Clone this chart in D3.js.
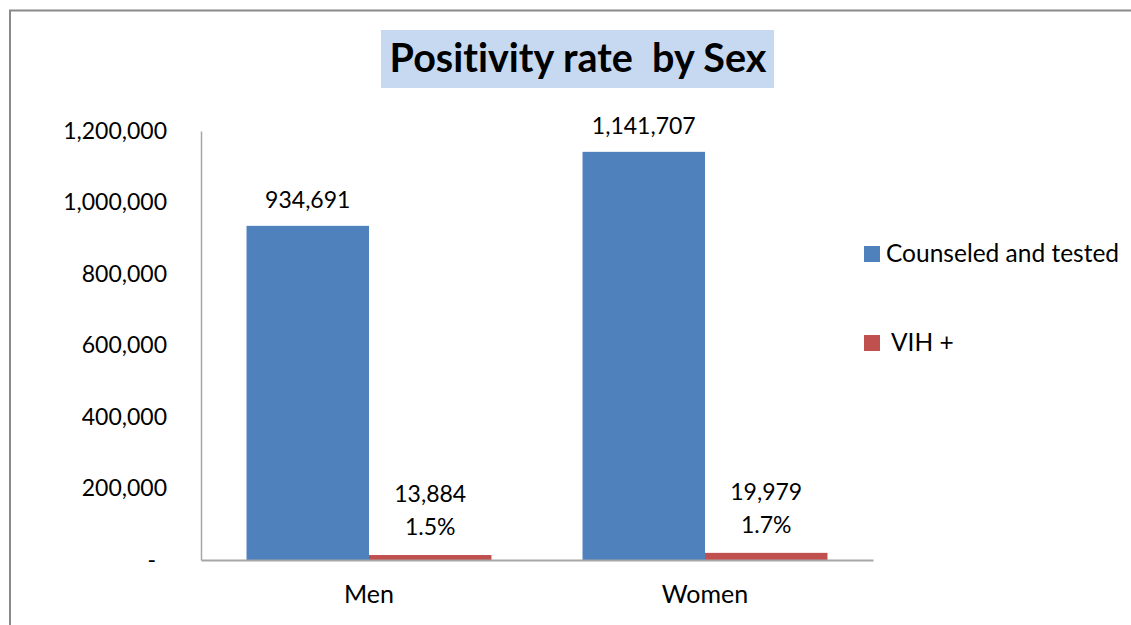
<!DOCTYPE html>
<html>
<head>
<meta charset="utf-8">
<script src="https://cdn.jsdelivr.net/npm/d3@7"></script>
<style>
  body { margin: 0; background: #fff; }
  svg { display: block; font-family: Lato, "Open Sans", sans-serif; font-variant-ligatures: none; }
</style>
</head>
<body>
<svg id="chart" width="1131" height="625"></svg>
<script>
// data
var categories = ["Men", "Women"];
var series = ["Counseled and tested", "VIH +"];
var tested = [934691, 1141707];
var positive = [13884, 19979];
var yTicks = [0, 200000, 400000, 600000, 800000, 1000000, 1200000];
var colors = ["#4F81BD", "#C0504D"];

var svg = d3.select("#chart");
var plot = {left: 201, right: 873, top: 131, bottom: 560};

// outer frame (only top and left visible in the picture)
svg.append("path").attr("d", "M10,625 V10.5 H1131")
  .attr("fill", "none").attr("stroke", "#8a8a8a").attr("stroke-width", 2);

// title box
var title = svg.append("g");
title.append("rect").attr("x", 381).attr("y", 30).attr("width", 393).attr("height", 58).attr("fill", "#C6D9F1");
title.append("text").attr("x", 578).attr("y", 72).attr("text-anchor", "middle")
  .attr("font-size", 39.5).attr("font-weight", "bold").attr("fill", "#000")
  .style("white-space", "pre").text("Positivity rate  by Sex");

var x0 = d3.scaleBand().domain(categories).range([plot.left, plot.right])
  .paddingInner(0.271).paddingOuter(0.1355);
var x1 = d3.scaleBand().domain(series).range([0, x0.bandwidth()]);
var y = d3.scaleLinear().domain([0, 1200000]).range([plot.bottom, plot.top]);

var rows = categories.map(function(c, i){
  return {cat: c, vals: [tested[i], positive[i]]};
});

// y axis
var fmt = d3.format(",");
var yAxis = svg.append("g").attr("transform", "translate(" + plot.left + ",0)")
  .call(d3.axisLeft(y).tickValues(yTicks).tickSize(0).tickPadding(34)
    .tickFormat(function(d){ return d === 0 ? "-" : fmt(d); }));
yAxis.select(".domain").attr("stroke", "#a6a6a6").attr("stroke-width", 1.5);
yAxis.selectAll("text").attr("font-size", 23).attr("font-family", "Lato").attr("fill", "#000")
  .attr("dx", function(d){ return d === 0 ? -11 : 0; });

// bars
var groups = svg.selectAll("g.cat").data(rows).enter().append("g").attr("class", "cat")
  .attr("transform", function(d){ return "translate(" + x0(d.cat) + ",0)"; });

groups.selectAll("rect").data(function(d){ return d.vals; }).enter().append("rect")
  .attr("x", function(d, i){ return x1(series[i]); })
  .attr("width", x1.bandwidth())
  .attr("y", function(d){ return y(d); })
  .attr("height", function(d){ return plot.bottom - y(d); })
  .attr("fill", function(d, i){ return colors[i]; });

// value labels
groups.append("text")
  .attr("x", x1(series[0]) + x1.bandwidth() / 2)
  .attr("y", function(d){ return y(d.vals[0]) - 18; })
  .attr("text-anchor", "middle").attr("font-size", 23).text(function(d){ return fmt(d.vals[0]); });

var pct = d3.format(".1%");
groups.each(function(d){
  var t = d3.select(this).append("text")
    .attr("x", x1(series[1]) + x1.bandwidth() / 2)
    .attr("y", y(d.vals[1]) - 53)
    .attr("text-anchor", "middle").attr("font-size", 23);
  t.append("tspan").attr("x", x1(series[1]) + x1.bandwidth() / 2).text(fmt(d.vals[1]));
  t.append("tspan").attr("x", x1(series[1]) + x1.bandwidth() / 2).attr("dy", 33).text(pct(d.vals[1] / d.vals[0]));
});

// x axis
var xAxis = svg.append("g").attr("transform", "translate(0," + plot.bottom + ")")
  .call(d3.axisBottom(x0).tickSize(0).tickPadding(25));
xAxis.select(".domain").attr("stroke", "#a6a6a6").attr("stroke-width", 2);
xAxis.selectAll("text").attr("font-size", 25).attr("font-family", "Lato").attr("fill", "#000");

// legend
var legend = svg.selectAll("g.leg").data(series).enter().append("g").attr("class", "leg")
  .attr("transform", function(d, i){ return "translate(864," + (246 + i * 89) + ")"; });
legend.append("rect").attr("width", 16).attr("height", 16).attr("fill", function(d, i){ return colors[i]; });
legend.append("text").attr("x", function(d, i){ return i === 0 ? 22 : 27; }).attr("y", 16)
  .attr("font-size", 24.5).text(function(d){ return d; });
</script>
</body>
</html>
